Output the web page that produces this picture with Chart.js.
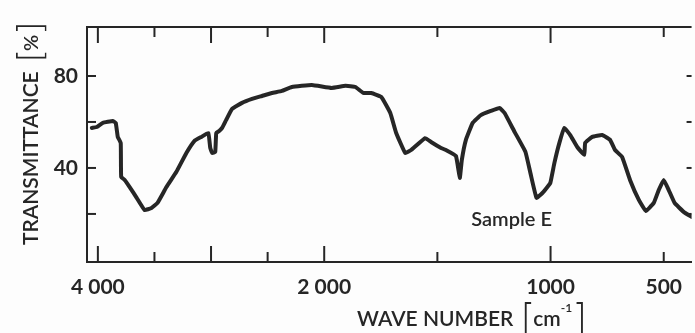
<!DOCTYPE html>
<html><head><meta charset="utf-8">
<style>html,body{margin:0;padding:0;background:#fdfdfd;} #wrap{width:695px;height:333px;position:relative;}</style>
<script src="https://cdn.jsdelivr.net/npm/chart.js@4.4.1/dist/chart.umd.min.js"></script>
</head><body><div id="wrap"><canvas id="c"></canvas></div>
<script>
// ---- data ----
const wavenumbers = [4053,4009,3956,3868,3842,3824,3798,3794,3763,3719,3657,3587,3526,3473,3394,3306,3218,3148,3086,3024,3007,2990,2963,2954,2928,2902,2866,2814,2726,2638,2550,2462,2374,2286,2110,1967,1906,1862,1827,1792,1748,1708,1682,1642,1616,1554,1528,1484,1462,1418,1401,1392,1374,1344,1308,1264,1225,1203,1159,1111,1089,1062,1036,1014,1001,983,961,939,913,882,851,847,816,772,737,715,684,649,610,579,544,522,500,478,452,412,377];
const transmittance = [57.4,57.8,59.6,60.4,59.6,53.5,50.9,36.1,34.8,31.7,27.0,21.7,22.6,24.8,31.7,38.3,46.5,51.7,53.5,55.2,48.7,46.5,47.0,55.2,56.1,57.4,60.9,65.7,68.3,70.0,71.3,72.6,73.5,75.2,76.1,74.8,75.7,75.2,72.6,72.6,70.9,63.9,55.2,46.5,47.8,53.0,51.3,48.7,47.8,45.2,35.7,43.5,52.2,59.6,63.0,64.8,66.1,63.9,55.7,47.0,37.8,27.0,29.1,31.7,33.5,42.2,50.9,57.4,54.3,49.1,45.7,50.9,53.5,54.3,52.2,47.8,44.8,34.8,26.1,21.3,24.8,30.4,34.8,30.4,24.8,20.9,18.7];
const xTickValues = [4000, 2000, 1000, 500];
const xTickLabels = ['4 000', '2 000', '1000', '500'];
const xMarkValues = [4000, 3500, 3000, 2500, 2000, 1500, 1000, 500];
const xMajorMarks = [4000, 3000, 2000, 1000];
const yTickValues = [80, 40];
const yMarkValues = [20, 40, 60, 80];
const xRange = [4096, 377];
const yRange = [-0.9, 101.3];
const sampleLabel = 'Sample E';
const samplePos = { wn: 1172, t: 17.4 };
const yTitle = 'TRANSMITTANCE';
const xTitle = 'WAVE NUMBER';

// chart paper: 4000-2000 at half the scale of 2000-0
function chartPos(w) { return w >= 2000 ? (4000 - w) / 2 : 1000 + (2000 - w); }

const ink = '#262626';
const points = wavenumbers.map((w, i) => ({ x: chartPos(w), y: transmittance[i] }));

function seg(ctx, x1, y1, x2, y2) { ctx.beginPath(); ctx.moveTo(x1, y1); ctx.lineTo(x2, y2); ctx.stroke(); }

const framePlugin = {
  id: 'frame',
  afterDraw(chart) {
    const { ctx, chartArea: a, scales: { x, y } } = chart;
    ctx.save();
    ctx.strokeStyle = ink; ctx.lineWidth = 2; ctx.lineCap = 'butt';
    seg(ctx, a.left, a.top, a.right, a.top);
    xMarkValues.forEach(w => {
      const px = x.getPixelForValue(chartPos(w));
      const len = xMajorMarks.includes(w) ? 16 : 10;
      seg(ctx, px, a.bottom, px, a.bottom - len);
      seg(ctx, px, a.top, px, a.top + len);
    });
    yMarkValues.forEach(v => {
      const py = y.getPixelForValue(v);
      seg(ctx, a.left, py, a.left + 9, py);
      seg(ctx, a.right, py, a.right - 5, py);
    });
    ctx.fillStyle = ink;
    // annotation
    ctx.font = '600 20px Lato';
    ctx.textAlign = 'center'; ctx.textBaseline = 'middle';
    ctx.fillText(sampleLabel, x.getPixelForValue(chartPos(samplePos.wn)), y.getPixelForValue(samplePos.t));
    // x title
    ctx.textAlign = 'left'; ctx.textBaseline = 'alphabetic';
    let cx = 357; const base = 326;
    ctx.font = '600 21px Lato';
    ctx.fillText(xTitle, cx, base); cx += ctx.measureText(xTitle).width + 7;
    ctx.font = '300 38px "DejaVu Sans"';
    ctx.fillText('[', cx, base + 4); cx += ctx.measureText('[').width - 2;
    ctx.font = '600 21px Lato';
    ctx.fillText('cm', cx, base); cx += ctx.measureText('cm').width;
    ctx.font = '600 12px Lato';
    ctx.fillText('-1', cx, base - 14); cx += ctx.measureText('-1').width;
    ctx.font = '300 38px "DejaVu Sans"';
    ctx.fillText(']', cx, base + 4);
    // y title
    ctx.translate(38, 245); ctx.rotate(-Math.PI / 2);
    let cy = 0;
    ctx.font = '600 21px Lato';
    ctx.fillText(yTitle, cy, 0); cy += ctx.measureText(yTitle).width + 9;
    ctx.font = '300 34px "DejaVu Sans"';
    ctx.fillText('[', cy, 4); cy += ctx.measureText('[').width - 2;
    ctx.font = '600 20px Lato';
    ctx.fillText('%', cy, 0); cy += ctx.measureText('%').width;
    ctx.font = '300 34px "DejaVu Sans"';
    ctx.fillText(']', cy, 4);
    ctx.restore();
  }
};

new Chart(document.getElementById('c'), {
  type: 'line',
  data: { datasets: [{ data: points, borderColor: ink, borderWidth: 4, pointRadius: 0, tension: 0.1,
    borderJoinStyle: 'round', borderCapStyle: 'round', fill: false }] },
  options: {
    responsive: true, maintainAspectRatio: false, animation: false,
    layout: { padding: { top: 27, right: 0, left: 0, bottom: 0 } },
    plugins: { legend: { display: false }, tooltip: { enabled: false } },
    scales: {
      x: {
        type: 'linear', min: chartPos(xRange[0]), max: chartPos(xRange[1]),
        grid: { display: false, drawTicks: false },
        border: { display: true, color: ink, width: 2 },
        afterBuildTicks: s => { s.ticks = xTickValues.map(w => ({ value: chartPos(w) })); },
        afterFit: s => { s.height = 71; },
        ticks: {
          color: ink, padding: 13, maxRotation: 0, autoSkip: false,
          font: { family: 'Lato', weight: 'bold', size: 21 },
          callback: (v) => { const i = xTickValues.findIndex(w => chartPos(w) === v); return i >= 0 ? xTickLabels[i] : ''; }
        }
      },
      y: {
        min: yRange[0], max: yRange[1],
        grid: { display: false, drawTicks: false },
        border: { display: true, color: ink, width: 2 },
        afterBuildTicks: s => { s.ticks = yTickValues.map(v => ({ value: v })); },
        afterFit: s => { s.width = 87; },
        ticks: { color: ink, padding: 9, font: { family: 'Lato', weight: 'bold', size: 21 } }
      }
    }
  },
  plugins: [framePlugin]
});
</script></body></html>
